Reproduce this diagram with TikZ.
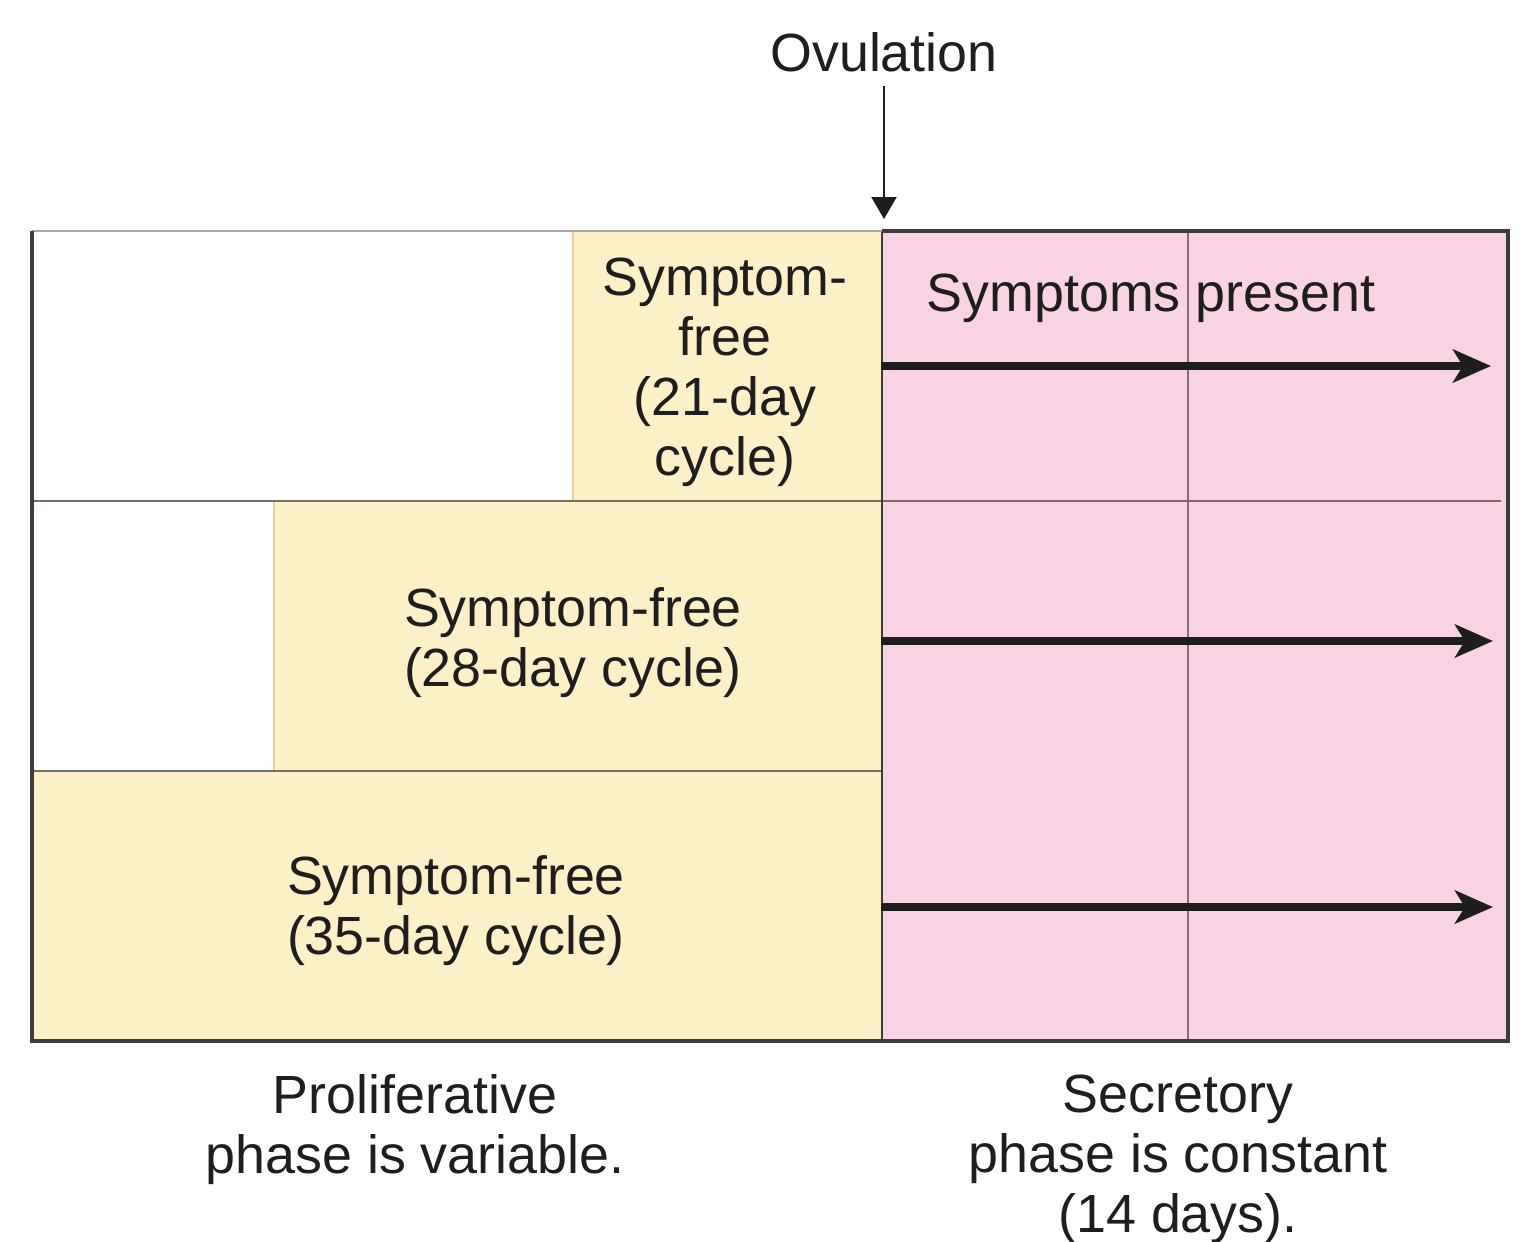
\documentclass[tikz,border=0pt]{standalone}
\usepackage{fontspec}
\setmainfont{Liberation Sans}
\usetikzlibrary{arrows.meta}
\definecolor{yel}{RGB}{252,240,199}
\definecolor{pnk}{RGB}{249,211,228}
\definecolor{edgec}{RGB}{60,60,60}
\definecolor{divc}{RGB}{120,110,100}
\definecolor{midc}{RGB}{135,110,125}
\definecolor{txtc}{RGB}{30,30,30}
\begin{document}
\begin{tikzpicture}[x=0.01cm,y=-0.01cm,
  txt/.style={font=\fontsize{15.3}{17.1}\selectfont, align=center, text=txtc, inner sep=0pt},
  ybox/.style={fill=yel, draw=none, inner sep=0pt},
  pbox/.style={fill=pnk, draw=none, inner sep=0pt},
  bigarrow/.style={line width=0.078cm, txtc, -{Stealth[length=0.38cm,width=0.33cm,inset=0.1cm]}},
  ovarrow/.style={line width=0.6pt, txtc, -{Triangle[length=0.22cm,width=0.25cm]}}
]
\useasboundingbox (0,0) rectangle (1520,1241);
% boxes
\node[ybox, minimum width=3.08cm, minimum height=2.70cm] (y1) at (728,366) {};
\node[ybox, minimum width=6.07cm, minimum height=2.70cm] (y2) at (578.5,636) {};
\node[ybox, minimum width=8.50cm, minimum height=2.70cm] (y3) at (457,906) {};
\node[pbox, minimum width=6.26cm, minimum height=8.10cm] (pk) at (1195,636) {};
% lines
\draw[line width=0.7pt, midc] (1188,231) -- (1188,1041);
\draw[line width=0.7pt, yel!70!brown] (y1.north west) -- (y1.south west);
\draw[line width=0.7pt, yel!70!brown] (y2.north west) -- (y2.south west);
\draw[line width=0.8pt, divc] (32,501) -- (1501,501);
\draw[line width=0.8pt, divc] (32,771) -- (882,771);
\draw[line width=0.8pt, edgec] (882,231) -- (882,1041);
\draw[line width=0.8pt, gray!70] (32,231) -- (882,231);
\draw[line width=0.9pt, edgec] (882,231) -- (1508,231) -- (1508,1041) -- (32,1041) -- (32,231);
% texts
\node[txt] (t1) at (725,372) {Symptom-\\free\\(21-day\\cycle)};
\node[txt] (t2) at (573,643) {Symptom-free\\(28-day cycle)};
\node[txt] (t3) at (456,911) {Symptom-free\\(35-day cycle)};
\node[txt] (sp) at (1151,298) {Symptoms present};
\node[txt] (ov) at (884,52) {Ovulation};
\node[txt] (prol) at (415,1130) {Proliferative\\phase is variable.};
\node[txt] (secr) at (1178,1159) {Secretory\\phase is constant\\(14 days).};
% arrows
\coordinate (e1) at (1491,366);
\coordinate (e2) at (1493,641);
\coordinate (e3) at (1493,907);
\draw[bigarrow] (pk.west |- e1) -- (e1);
\draw[bigarrow] (pk.west |- e2) -- (e2);
\draw[bigarrow] (pk.west |- e3) -- (e3);
\coordinate (ovt) at (884,219);
\draw[ovarrow] (ov.south |- 0,86) -- (ovt);
\end{tikzpicture}
\end{document}
